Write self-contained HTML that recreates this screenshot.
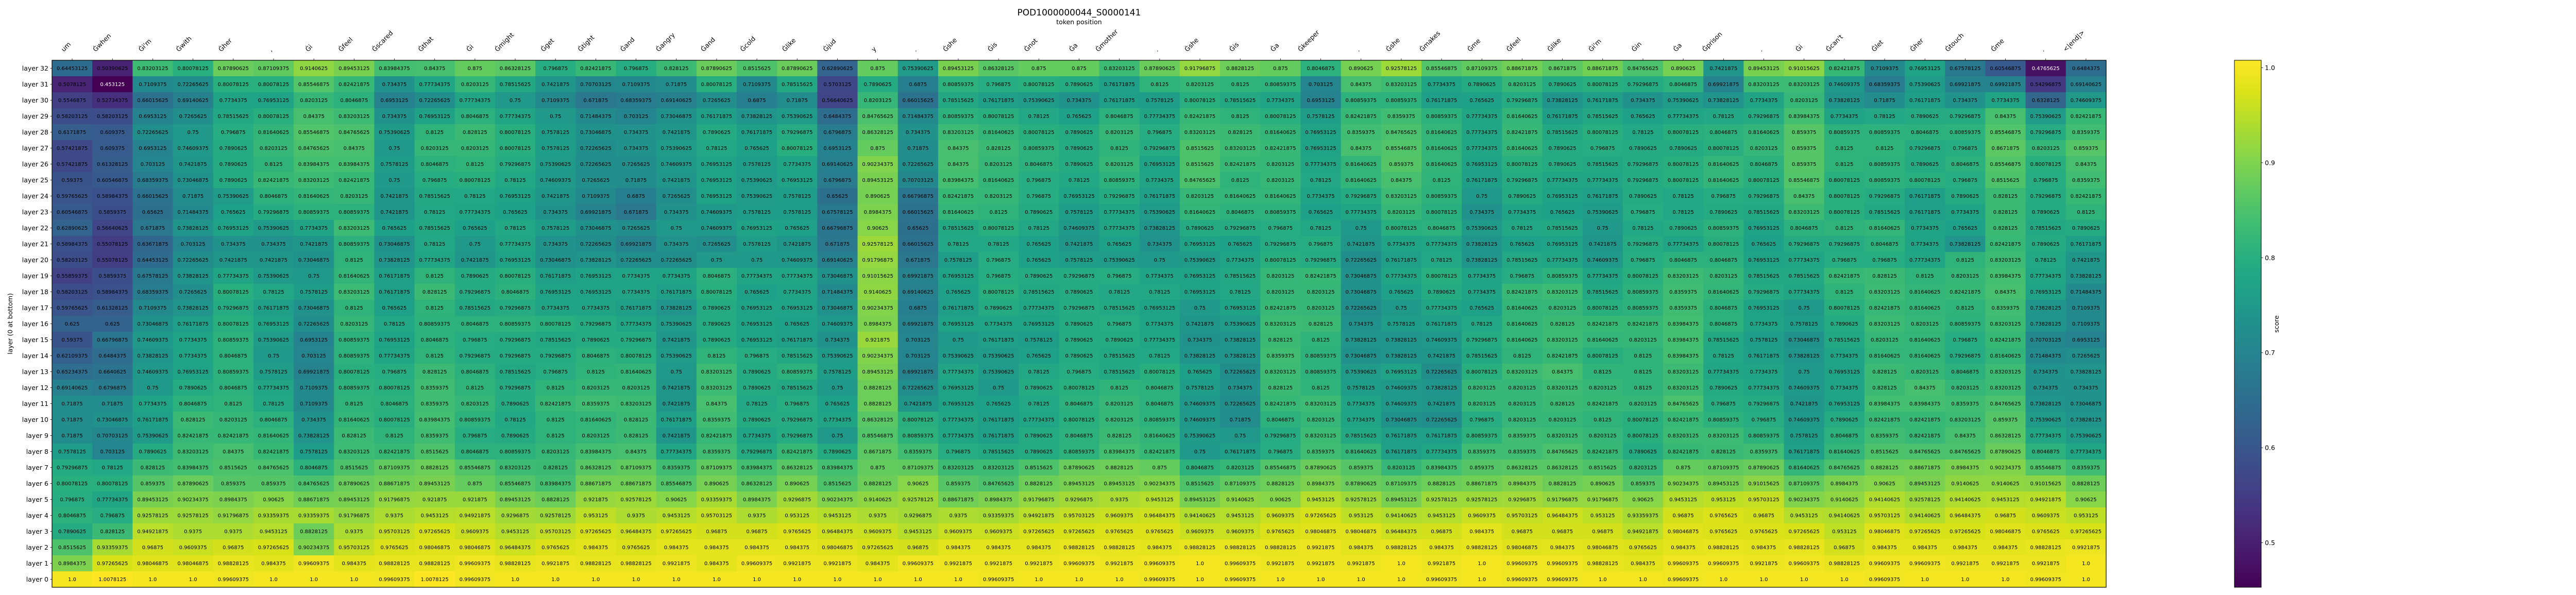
<!DOCTYPE html>
<html><head><meta charset="utf-8"><title>POD1000000044_S0000141</title>
<style>
html,body{margin:0;padding:0;background:#fff;}
svg{display:block;font-family:"DejaVu Sans","Liberation Sans",sans-serif;}
</style></head>
<body>
<svg id="chart" width="5100" height="1155" viewBox="0 0 5100 1155" xmlns="http://www.w3.org/2000/svg">
<defs><linearGradient id="cbgrad" x1="0" y1="1" x2="0" y2="0"></linearGradient></defs>
<text x="2094.5" y="30" font-size="17" text-anchor="middle">POD1000000044_S0000141</text>
<text x="2094.5" y="47" font-size="12.5" text-anchor="middle">token position</text>
<text x="0" y="0" font-size="12.5" text-anchor="middle" transform="translate(24,628.5) rotate(-90)">layer (0 at bottom)</text>
<g id="cells"></g>
<g id="xticks"></g>
<g id="yticks"></g>
<rect x="101" y="117" width="3987" height="1023" fill="none" stroke="#000" stroke-width="1.2"/>
<g id="colorbar"></g>
<text x="0" y="0" font-size="12.5" text-anchor="middle" transform="translate(4423,629) rotate(-90)">score</text>
</svg>
<script>
const tokens = ["um","Ġwhen","Ġi'm","Ġwith","Ġher",",","Ġi","Ġfeel","Ġscared","Ġthat","Ġi","Ġmight","Ġget","Ġtight","Ġand","Ġangry","Ġand","Ġcold","Ġlike","Ġjud","y",".","Ġshe","Ġis","Ġnot","Ġa","Ġmother",".","Ġshe","Ġis","Ġa","Ġkeeper",".","Ġshe","Ġmakes","Ġme","Ġfeel","Ġlike","Ġi'm","Ġin","Ġa","Ġprison",".","Ġi","Ġcan't","Ġlet","Ġher","Ġtouch","Ġme",".","<|end|>"];
const layerNums = [32,31,30,29,28,27,26,25,24,23,22,21,20,19,18,17,16,15,14,13,12,11,10,9,8,7,6,5,4,3,2,1,0];
const cbTicks = [0.5,0.6,0.7,0.8,0.9,1.0];
const vmin = 0.453125, vmax = 1.0078125;
const L32=[0.64453125,0.50390625,0.83203125,0.80078125,0.87890625,0.87109375,0.9140625,0.89453125,0.83984375,0.84375,0.875,0.86328125,0.796875,0.82421875,0.796875,0.828125,0.87890625,0.8515625,0.87890625,0.62890625,0.875,0.75390625,0.89453125,0.86328125,0.875,0.875,0.83203125,0.87890625,0.91796875,0.8828125,0.875,0.8046875,0.890625,0.92578125,0.85546875,0.87109375,0.88671875,0.8671875,0.88671875,0.84765625,0.890625,0.7421875,0.89453125,0.91015625,0.82421875,0.7109375,0.76953125,0.67578125,0.60546875,0.4765625,0.6484375];
const L31=[0.5078125,0.453125,0.7109375,0.72265625,0.80078125,0.80078125,0.85546875,0.82421875,0.734375,0.77734375,0.8203125,0.78515625,0.7421875,0.70703125,0.7109375,0.71875,0.80078125,0.7109375,0.78515625,0.5703125,0.7890625,0.6875,0.80859375,0.796875,0.80078125,0.7890625,0.76171875,0.8125,0.8203125,0.8125,0.80859375,0.703125,0.84375,0.83203125,0.7734375,0.7890625,0.8203125,0.7890625,0.80078125,0.79296875,0.8046875,0.69921875,0.83203125,0.83203125,0.74609375,0.68359375,0.75390625,0.69921875,0.69921875,0.54296875,0.69140625];
const L30=[0.5546875,0.52734375,0.66015625,0.69140625,0.7734375,0.76953125,0.8203125,0.8046875,0.6953125,0.72265625,0.77734375,0.75,0.7109375,0.671875,0.68359375,0.69140625,0.7265625,0.6875,0.71875,0.56640625,0.8203125,0.66015625,0.78515625,0.76171875,0.75390625,0.734375,0.76171875,0.7578125,0.80078125,0.78515625,0.7734375,0.6953125,0.80859375,0.80859375,0.76171875,0.765625,0.79296875,0.73828125,0.76171875,0.734375,0.75390625,0.73828125,0.7734375,0.8203125,0.73828125,0.71875,0.76171875,0.734375,0.7734375,0.6328125,0.74609375];
const L29=[0.58203125,0.58203125,0.6953125,0.7265625,0.78515625,0.80078125,0.84375,0.83203125,0.734375,0.76953125,0.8046875,0.77734375,0.75,0.71484375,0.703125,0.73046875,0.76171875,0.73828125,0.75390625,0.6484375,0.84765625,0.71484375,0.80859375,0.80078125,0.78125,0.765625,0.8046875,0.77734375,0.82421875,0.8125,0.80078125,0.7578125,0.82421875,0.8359375,0.80859375,0.77734375,0.81640625,0.76171875,0.78515625,0.765625,0.77734375,0.78125,0.79296875,0.83984375,0.7734375,0.78125,0.7890625,0.79296875,0.84375,0.75390625,0.82421875];
const L28=[0.6171875,0.609375,0.72265625,0.75,0.796875,0.81640625,0.85546875,0.84765625,0.75390625,0.8125,0.828125,0.80078125,0.7578125,0.73046875,0.734375,0.7421875,0.7890625,0.76171875,0.79296875,0.6796875,0.86328125,0.734375,0.83203125,0.81640625,0.80078125,0.7890625,0.8203125,0.796875,0.83203125,0.828125,0.81640625,0.76953125,0.8359375,0.84765625,0.81640625,0.77734375,0.82421875,0.78515625,0.80078125,0.78125,0.80078125,0.8046875,0.81640625,0.859375,0.80859375,0.80859375,0.8046875,0.80859375,0.85546875,0.79296875,0.8359375];
const L27=[0.57421875,0.609375,0.6953125,0.74609375,0.7890625,0.8203125,0.84765625,0.84375,0.75,0.8203125,0.8203125,0.80078125,0.7578125,0.72265625,0.734375,0.75390625,0.78125,0.765625,0.80078125,0.6953125,0.875,0.71875,0.84375,0.828125,0.80859375,0.7890625,0.8125,0.79296875,0.8515625,0.83203125,0.82421875,0.76953125,0.84375,0.85546875,0.81640625,0.77734375,0.81640625,0.7890625,0.796875,0.7890625,0.7890625,0.80078125,0.8203125,0.859375,0.8125,0.8125,0.79296875,0.796875,0.8671875,0.8203125,0.859375];
const L26=[0.57421875,0.61328125,0.703125,0.7421875,0.7890625,0.8125,0.83984375,0.83984375,0.7578125,0.8046875,0.8125,0.79296875,0.75390625,0.72265625,0.7265625,0.74609375,0.76953125,0.7578125,0.7734375,0.69140625,0.90234375,0.72265625,0.84375,0.8203125,0.8046875,0.7890625,0.8203125,0.76953125,0.8515625,0.82421875,0.8203125,0.77734375,0.81640625,0.859375,0.81640625,0.76953125,0.80078125,0.7890625,0.78515625,0.79296875,0.80078125,0.81640625,0.8046875,0.859375,0.8125,0.80859375,0.7890625,0.8046875,0.85546875,0.80078125,0.84375];
const L25=[0.59375,0.60546875,0.68359375,0.73046875,0.7890625,0.82421875,0.83203125,0.82421875,0.75,0.796875,0.80078125,0.78125,0.74609375,0.7265625,0.71875,0.7421875,0.76953125,0.75390625,0.76953125,0.6796875,0.89453125,0.70703125,0.83984375,0.81640625,0.796875,0.78125,0.80859375,0.7734375,0.84765625,0.8125,0.8203125,0.78125,0.81640625,0.84375,0.8125,0.76171875,0.79296875,0.77734375,0.77734375,0.79296875,0.80078125,0.81640625,0.80078125,0.85546875,0.80078125,0.80859375,0.80078125,0.796875,0.8515625,0.796875,0.8359375];
const L24=[0.59765625,0.58984375,0.66015625,0.71875,0.75390625,0.8046875,0.81640625,0.8203125,0.7421875,0.78515625,0.78125,0.76953125,0.7421875,0.7109375,0.6875,0.7265625,0.76953125,0.75390625,0.7578125,0.65625,0.890625,0.66796875,0.82421875,0.8203125,0.796875,0.76953125,0.79296875,0.76171875,0.8203125,0.81640625,0.81640625,0.7734375,0.79296875,0.83203125,0.80859375,0.75,0.7890625,0.76953125,0.76171875,0.7890625,0.78125,0.796875,0.79296875,0.84375,0.80078125,0.79296875,0.76171875,0.7890625,0.828125,0.79296875,0.82421875];
const L23=[0.60546875,0.5859375,0.65625,0.71484375,0.765625,0.79296875,0.80859375,0.80859375,0.7421875,0.78125,0.77734375,0.765625,0.734375,0.69921875,0.671875,0.734375,0.74609375,0.7578125,0.7578125,0.67578125,0.8984375,0.66015625,0.81640625,0.8125,0.7890625,0.7578125,0.77734375,0.75390625,0.81640625,0.8046875,0.80859375,0.765625,0.77734375,0.8203125,0.80078125,0.734375,0.7734375,0.765625,0.75390625,0.796875,0.78125,0.7890625,0.78515625,0.83203125,0.80078125,0.78515625,0.76171875,0.7734375,0.828125,0.7890625,0.8125];
const L22=[0.62890625,0.56640625,0.671875,0.73828125,0.76953125,0.75390625,0.7734375,0.83203125,0.765625,0.78515625,0.765625,0.78125,0.7578125,0.73046875,0.7265625,0.75,0.74609375,0.76953125,0.765625,0.66796875,0.90625,0.65625,0.78515625,0.80078125,0.78125,0.74609375,0.77734375,0.73828125,0.7890625,0.79296875,0.796875,0.78125,0.75,0.80078125,0.8046875,0.75390625,0.78125,0.78515625,0.75,0.78125,0.7890625,0.80859375,0.76953125,0.8046875,0.8125,0.81640625,0.7734375,0.765625,0.828125,0.78515625,0.7890625];
const L21=[0.58984375,0.55078125,0.63671875,0.703125,0.734375,0.734375,0.7421875,0.80859375,0.73046875,0.78125,0.75,0.77734375,0.734375,0.72265625,0.69921875,0.734375,0.7265625,0.7578125,0.7421875,0.671875,0.92578125,0.66015625,0.78125,0.78125,0.765625,0.7421875,0.765625,0.734375,0.76953125,0.765625,0.79296875,0.796875,0.7421875,0.7734375,0.77734375,0.73828125,0.765625,0.76953125,0.7421875,0.79296875,0.77734375,0.80078125,0.765625,0.79296875,0.79296875,0.8046875,0.7734375,0.73828125,0.82421875,0.7890625,0.76171875];
const L20=[0.58203125,0.55078125,0.64453125,0.72265625,0.7421875,0.7421875,0.73046875,0.8125,0.73828125,0.77734375,0.7421875,0.76953125,0.73046875,0.73828125,0.72265625,0.72265625,0.75,0.75,0.74609375,0.69140625,0.91796875,0.671875,0.7578125,0.796875,0.765625,0.7578125,0.75390625,0.75,0.75390625,0.7734375,0.80078125,0.79296875,0.72265625,0.76171875,0.78125,0.73828125,0.78515625,0.77734375,0.74609375,0.796875,0.8046875,0.8046875,0.76953125,0.77734375,0.796875,0.796875,0.77734375,0.8125,0.83203125,0.78125,0.7421875];
const L19=[0.55859375,0.5859375,0.67578125,0.73828125,0.77734375,0.75390625,0.75,0.81640625,0.76171875,0.8125,0.7890625,0.80078125,0.76171875,0.76953125,0.7734375,0.7734375,0.8046875,0.77734375,0.77734375,0.73046875,0.91015625,0.69921875,0.76953125,0.796875,0.7890625,0.79296875,0.796875,0.7734375,0.76953125,0.78515625,0.8203125,0.82421875,0.73046875,0.77734375,0.80078125,0.7734375,0.796875,0.80859375,0.77734375,0.80078125,0.83203125,0.8203125,0.78515625,0.78515625,0.82421875,0.828125,0.8125,0.8203125,0.83984375,0.77734375,0.73828125];
const L18=[0.58203125,0.58984375,0.68359375,0.7265625,0.80078125,0.78125,0.7578125,0.83203125,0.76171875,0.828125,0.79296875,0.8046875,0.76953125,0.76953125,0.7734375,0.76171875,0.80078125,0.765625,0.7734375,0.71484375,0.9140625,0.69140625,0.765625,0.80078125,0.78515625,0.7890625,0.78125,0.78125,0.76953125,0.78125,0.8203125,0.8203125,0.73046875,0.765625,0.7890625,0.7734375,0.82421875,0.83203125,0.78515625,0.80859375,0.8359375,0.81640625,0.79296875,0.77734375,0.8125,0.83203125,0.81640625,0.82421875,0.84375,0.76953125,0.71484375];
const L17=[0.59765625,0.61328125,0.7109375,0.73828125,0.79296875,0.76171875,0.73046875,0.8125,0.765625,0.8125,0.78515625,0.79296875,0.7734375,0.7734375,0.76171875,0.73828125,0.7890625,0.76953125,0.76953125,0.73046875,0.90234375,0.6875,0.76171875,0.7890625,0.77734375,0.79296875,0.78515625,0.76953125,0.75,0.76953125,0.82421875,0.8203125,0.72265625,0.75,0.77734375,0.765625,0.81640625,0.8203125,0.80078125,0.80859375,0.8359375,0.8046875,0.76953125,0.75,0.80078125,0.82421875,0.81640625,0.8125,0.8359375,0.73828125,0.7109375];
const L16=[0.625,0.625,0.73046875,0.76171875,0.80078125,0.76953125,0.72265625,0.8203125,0.78125,0.80859375,0.8046875,0.80859375,0.80078125,0.79296875,0.77734375,0.75390625,0.7890625,0.76953125,0.765625,0.74609375,0.8984375,0.69921875,0.76953125,0.7734375,0.76953125,0.7890625,0.796875,0.7734375,0.7421875,0.75390625,0.83203125,0.828125,0.734375,0.7578125,0.76171875,0.78125,0.81640625,0.828125,0.82421875,0.82421875,0.83984375,0.8046875,0.7734375,0.7578125,0.7890625,0.83203125,0.8203125,0.80859375,0.83203125,0.73828125,0.7109375];
const L15=[0.59375,0.66796875,0.74609375,0.7734375,0.80859375,0.75390625,0.6953125,0.80859375,0.76953125,0.8046875,0.796875,0.79296875,0.78515625,0.7890625,0.79296875,0.7421875,0.7890625,0.76953125,0.76171875,0.734375,0.921875,0.703125,0.75,0.76171875,0.7578125,0.7890625,0.7890625,0.77734375,0.734375,0.73828125,0.828125,0.8125,0.73828125,0.73828125,0.74609375,0.79296875,0.81640625,0.83203125,0.81640625,0.8203125,0.83984375,0.78515625,0.7578125,0.73046875,0.78515625,0.8203125,0.81640625,0.796875,0.82421875,0.70703125,0.6953125];
const L14=[0.62109375,0.6484375,0.73828125,0.7734375,0.8046875,0.75,0.703125,0.80859375,0.77734375,0.8125,0.79296875,0.79296875,0.79296875,0.8046875,0.80078125,0.75390625,0.8125,0.796875,0.78515625,0.75390625,0.90234375,0.703125,0.75390625,0.75390625,0.765625,0.7890625,0.78515625,0.78125,0.73828125,0.73828125,0.8359375,0.80859375,0.73046875,0.73828125,0.7421875,0.78515625,0.8125,0.82421875,0.80078125,0.8125,0.83984375,0.78125,0.76171875,0.73828125,0.7734375,0.81640625,0.81640625,0.79296875,0.81640625,0.71484375,0.7265625];
const L13=[0.65234375,0.6640625,0.74609375,0.76953125,0.80859375,0.7578125,0.69921875,0.80078125,0.796875,0.828125,0.8046875,0.78515625,0.796875,0.8125,0.81640625,0.75,0.83203125,0.7890625,0.80859375,0.7578125,0.89453125,0.69921875,0.77734375,0.75390625,0.78125,0.796875,0.78515625,0.80078125,0.765625,0.72265625,0.83203125,0.80859375,0.75390625,0.76953125,0.72265625,0.80078125,0.83203125,0.84375,0.8125,0.8125,0.83203125,0.77734375,0.7734375,0.75,0.76953125,0.828125,0.8203125,0.8046875,0.83203125,0.734375,0.73828125];
const L12=[0.69140625,0.6796875,0.75,0.7890625,0.8046875,0.77734375,0.7109375,0.80859375,0.80078125,0.8359375,0.8125,0.79296875,0.8125,0.8203125,0.8203125,0.7421875,0.83203125,0.7890625,0.78515625,0.75,0.8828125,0.72265625,0.76953125,0.75,0.7890625,0.80078125,0.8125,0.8046875,0.7578125,0.734375,0.828125,0.8125,0.7578125,0.74609375,0.73828125,0.8203125,0.8203125,0.83203125,0.8203125,0.8125,0.83203125,0.7890625,0.77734375,0.74609375,0.7734375,0.828125,0.84375,0.8203125,0.83203125,0.734375,0.734375];
const L11=[0.71875,0.71875,0.7734375,0.8046875,0.8125,0.78125,0.7109375,0.8125,0.8046875,0.8359375,0.8203125,0.7890625,0.82421875,0.8359375,0.83203125,0.7421875,0.84375,0.78125,0.796875,0.765625,0.8828125,0.7421875,0.76953125,0.765625,0.78125,0.8046875,0.8203125,0.8046875,0.74609375,0.72265625,0.82421875,0.83203125,0.7734375,0.74609375,0.7421875,0.8203125,0.8203125,0.828125,0.82421875,0.8203125,0.84765625,0.796875,0.79296875,0.7421875,0.76953125,0.83984375,0.83984375,0.8359375,0.84765625,0.73828125,0.73046875];
const L10=[0.71875,0.73046875,0.76171875,0.828125,0.8203125,0.8046875,0.734375,0.81640625,0.80078125,0.83984375,0.80859375,0.78125,0.8125,0.81640625,0.828125,0.76171875,0.8359375,0.7890625,0.79296875,0.7734375,0.86328125,0.80078125,0.77734375,0.76171875,0.77734375,0.80078125,0.8203125,0.80859375,0.74609375,0.71875,0.8046875,0.8203125,0.7734375,0.73046875,0.72265625,0.796875,0.8203125,0.8203125,0.8125,0.80078125,0.82421875,0.80859375,0.796875,0.74609375,0.7890625,0.82421875,0.82421875,0.83203125,0.859375,0.75390625,0.73828125];
const L9=[0.71875,0.70703125,0.75390625,0.82421875,0.82421875,0.81640625,0.73828125,0.828125,0.8125,0.8359375,0.796875,0.7890625,0.8125,0.8203125,0.828125,0.7421875,0.82421875,0.7734375,0.79296875,0.75,0.85546875,0.80859375,0.77734375,0.76171875,0.7890625,0.8046875,0.828125,0.81640625,0.75390625,0.75,0.79296875,0.83203125,0.78515625,0.76171875,0.76171875,0.80859375,0.8359375,0.83203125,0.8203125,0.80078125,0.83203125,0.83203125,0.80859375,0.7578125,0.8046875,0.8359375,0.82421875,0.84375,0.86328125,0.77734375,0.75390625];
const L8=[0.7578125,0.703125,0.7890625,0.83203125,0.84375,0.82421875,0.7578125,0.83203125,0.82421875,0.8515625,0.8046875,0.80859375,0.8203125,0.83984375,0.84375,0.77734375,0.8359375,0.79296875,0.82421875,0.7890625,0.8671875,0.8359375,0.796875,0.78515625,0.7890625,0.80859375,0.83984375,0.82421875,0.75,0.76171875,0.796875,0.8359375,0.81640625,0.76171875,0.77734375,0.8359375,0.8359375,0.84765625,0.82421875,0.7890625,0.82421875,0.828125,0.8359375,0.76171875,0.81640625,0.8515625,0.84765625,0.84765625,0.87890625,0.8046875,0.77734375];
const L7=[0.79296875,0.78125,0.828125,0.83984375,0.8515625,0.84765625,0.8046875,0.8515625,0.87109375,0.8828125,0.85546875,0.83203125,0.828125,0.86328125,0.87109375,0.8359375,0.87109375,0.83984375,0.86328125,0.83984375,0.875,0.87109375,0.83203125,0.83203125,0.8515625,0.87890625,0.8828125,0.875,0.8046875,0.8203125,0.85546875,0.87890625,0.859375,0.8203125,0.83984375,0.859375,0.86328125,0.86328125,0.8515625,0.8203125,0.875,0.87109375,0.87890625,0.81640625,0.84765625,0.8828125,0.88671875,0.8984375,0.90234375,0.85546875,0.8359375];
const L6=[0.80078125,0.80078125,0.859375,0.87890625,0.859375,0.859375,0.84765625,0.87890625,0.88671875,0.89453125,0.875,0.85546875,0.83984375,0.88671875,0.88671875,0.85546875,0.890625,0.86328125,0.890625,0.8515625,0.8828125,0.90625,0.859375,0.84765625,0.8828125,0.89453125,0.89453125,0.90234375,0.8515625,0.87109375,0.8828125,0.8984375,0.87890625,0.87109375,0.8828125,0.88671875,0.8984375,0.8828125,0.890625,0.859375,0.90234375,0.89453125,0.91015625,0.87109375,0.8984375,0.90625,0.89453125,0.9140625,0.9140625,0.91015625,0.8828125];
const L5=[0.796875,0.77734375,0.89453125,0.90234375,0.8984375,0.90625,0.88671875,0.89453125,0.91796875,0.921875,0.921875,0.89453125,0.8828125,0.921875,0.92578125,0.90625,0.93359375,0.8984375,0.9296875,0.90234375,0.9140625,0.92578125,0.88671875,0.8984375,0.91796875,0.9296875,0.9375,0.9453125,0.89453125,0.9140625,0.90625,0.9453125,0.92578125,0.89453125,0.92578125,0.92578125,0.9296875,0.91796875,0.91796875,0.90625,0.9453125,0.953125,0.95703125,0.90234375,0.9140625,0.94140625,0.92578125,0.94140625,0.9453125,0.94921875,0.90625];
const L4=[0.8046875,0.796875,0.92578125,0.92578125,0.91796875,0.93359375,0.93359375,0.91796875,0.9375,0.9453125,0.94921875,0.9296875,0.92578125,0.953125,0.9375,0.9453125,0.95703125,0.9375,0.953125,0.9453125,0.9375,0.9296875,0.9375,0.93359375,0.94921875,0.95703125,0.9609375,0.96484375,0.94140625,0.9453125,0.9609375,0.97265625,0.953125,0.94140625,0.9453125,0.9609375,0.95703125,0.96484375,0.953125,0.93359375,0.96875,0.9765625,0.96875,0.9453125,0.94140625,0.95703125,0.94140625,0.96484375,0.96875,0.9609375,0.953125];
const L3=[0.7890625,0.828125,0.94921875,0.9375,0.9375,0.9453125,0.8828125,0.9375,0.95703125,0.97265625,0.9609375,0.9453125,0.95703125,0.97265625,0.96484375,0.97265625,0.96875,0.96875,0.9765625,0.96484375,0.9609375,0.9453125,0.9609375,0.9609375,0.97265625,0.97265625,0.9765625,0.9765625,0.9609375,0.9609375,0.9765625,0.98046875,0.98046875,0.96484375,0.96875,0.984375,0.96875,0.96875,0.96875,0.94921875,0.98046875,0.9765625,0.9765625,0.97265625,0.953125,0.98046875,0.97265625,0.97265625,0.98046875,0.9765625,0.97265625];
const L2=[0.8515625,0.93359375,0.96875,0.9609375,0.96875,0.97265625,0.90234375,0.95703125,0.9765625,0.98046875,0.98046875,0.96484375,0.9765625,0.984375,0.9765625,0.984375,0.984375,0.984375,0.984375,0.98046875,0.97265625,0.96875,0.984375,0.984375,0.984375,0.98828125,0.98828125,0.984375,0.98828125,0.98828125,0.98828125,0.9921875,0.984375,0.98828125,0.984375,0.98828125,0.98046875,0.984375,0.98046875,0.9765625,0.984375,0.98828125,0.984375,0.98828125,0.96875,0.984375,0.984375,0.984375,0.984375,0.98828125,0.9921875];
const L1=[0.8984375,0.97265625,0.98046875,0.98046875,0.98828125,0.984375,0.99609375,0.984375,0.98828125,0.98828125,0.99609375,0.98828125,0.9921875,0.98828125,0.98828125,0.9921875,0.984375,0.99609375,0.9921875,0.9921875,0.984375,0.99609375,0.9921875,0.9921875,0.9921875,0.99609375,0.9921875,0.99609375,1.0,0.99609375,0.9921875,0.9921875,0.9921875,1.0,0.9921875,1.0,0.99609375,0.99609375,0.98828125,0.984375,0.99609375,0.99609375,0.9921875,0.99609375,0.98828125,0.99609375,0.99609375,0.9921875,0.9921875,0.9921875,1.0];
const L0=[1.0,1.0078125,1.0,1.0,0.99609375,1.0,1.0,1.0,0.99609375,1.0078125,0.99609375,1.0,1.0,1.0,1.0,1.0,1.0,1.0,1.0,1.0,1.0,1.0,1.0,0.99609375,1.0,1.0,1.0,0.99609375,1.0,0.99609375,1.0,1.0,1.0,1.0,0.99609375,1.0,0.99609375,0.99609375,1.0,1.0,0.99609375,1.0,1.0,1.0,1.0,0.99609375,1.0,1.0,1.0,0.99609375,1.0];
const scoreRows = [L32,L31,L30,L29,L28,L27,L26,L25,L24,L23,L22,L21,L20,L19,L18,L17,L16,L15,L14,L13,L12,L11,L10,L9,L8,L7,L6,L5,L4,L3,L2,L1,L0];

const NS = "http://www.w3.org/2000/svg";
const PX0 = 101, PX1 = 4088, PY0 = 117, PY1 = 1140;
const cw = (PX1 - PX0) / tokens.length;
const rh = (PY1 - PY0) / scoreRows.length;
function xPos(i){ return PX0 + i * cw; }
function yPos(r){ return PY0 + r * rh; }

const VIR = ["#440154","#48186a","#472d7b","#424086","#3b528b","#33638d","#2c728e","#26828e","#21918c","#1fa088","#28ae80","#3fbc73","#5ec962","#84d44b","#addc30","#d8e219","#fde725"];
function hex2rgb(h){ return [parseInt(h.slice(1,3),16),parseInt(h.slice(3,5),16),parseInt(h.slice(5,7),16)]; }
const VRGB = VIR.map(hex2rgb);
function viridis(t){
  t = Math.max(0, Math.min(1, t));
  const f = t * (VRGB.length - 1);
  const i = Math.min(VRGB.length - 2, Math.floor(f));
  const u = f - i;
  const a = VRGB[i], b = VRGB[i+1];
  return "rgb(" + [0,1,2].map(k => Math.round(a[k] + (b[k]-a[k])*u)).join(",") + ")";
}
function colorOf(v){ return viridis((v - vmin) / (vmax - vmin)); }
function fmt(v){ return Number.isInteger(v) ? v.toFixed(1) : String(v); }

const cells = document.getElementById("cells");
scoreRows.forEach((row, r) => {
  row.forEach((v, c) => {
    const rect = document.createElementNS(NS, "rect");
    
    
    rect.setAttribute("x", xPos(c));
    rect.setAttribute("y", yPos(r));
    rect.setAttribute("width", cw + 0.6);
    rect.setAttribute("height", rh + 0.6);
    rect.setAttribute("fill", colorOf(v));
    cells.appendChild(rect);
    const t = document.createElementNS(NS, "text");
    
    
    t.setAttribute("x", xPos(c) + cw/2);
    t.setAttribute("y", yPos(r) + rh/2 + 3.6);
    t.setAttribute("font-size", "10");
    t.setAttribute("text-anchor", "middle");
    t.setAttribute("fill", v < 0.49 ? "#fff" : "#000");
    t.textContent = fmt(v);
    cells.appendChild(t);
  });
});

const yt = document.getElementById("yticks");
layerNums.forEach((n, r) => {
  const yc = yPos(r) + rh/2;
  const ln = document.createElementNS(NS, "line");
  
  
  ln.setAttribute("x1", PX0 - 3.5); ln.setAttribute("x2", PX0);
  ln.setAttribute("y1", yc); ln.setAttribute("y2", yc);
  ln.setAttribute("stroke", "#000"); ln.setAttribute("stroke-width", "0.8");
  yt.appendChild(ln);
  const t = document.createElementNS(NS, "text");
  
  
  t.setAttribute("x", PX0 - 7);
  t.setAttribute("y", yc + 4.5);
  t.setAttribute("font-size", "12.5");
  t.setAttribute("text-anchor", "end");
  t.textContent = "layer " + n;
  yt.appendChild(t);
});

const xt = document.getElementById("xticks");
tokens.forEach((tok, c) => {
  const xc = xPos(c) + cw/2;
  const ln = document.createElementNS(NS, "line");
  
  
  ln.setAttribute("x1", xc); ln.setAttribute("x2", xc);
  ln.setAttribute("y1", PY0 - 3.5); ln.setAttribute("y2", PY0);
  ln.setAttribute("stroke", "#000"); ln.setAttribute("stroke-width", "0.8");
  xt.appendChild(ln);
  const t = document.createElementNS(NS, "text");
  
  
  t.setAttribute("font-size", "12.5");
  t.textContent = tok;
  xt.appendChild(t);
  const w = t.getComputedTextLength();
  const px = xc - 0.707 * w - 2;
  const py = 101;
  t.setAttribute("x", px); t.setAttribute("y", py);
  t.setAttribute("transform", "rotate(-45 " + px + " " + py + ")");
});

// colorbar
const grad = document.getElementById("cbgrad");
for (let i = 0; i < VIR.length; i++) {
  const s = document.createElementNS(NS, "stop");
  s.setAttribute("offset", (i/(VIR.length-1)));
  s.setAttribute("stop-color", VIR[i]);
  grad.appendChild(s);
}
const cb = document.getElementById("colorbar");
const CBX = 4337, CBW = 52;
function cbY(v){ return PY1 - (v - vmin) / (vmax - vmin) * (PY1 - PY0); }
const cbr = document.createElementNS(NS, "rect");


cbr.setAttribute("x", CBX); cbr.setAttribute("y", PY0);
cbr.setAttribute("width", CBW); cbr.setAttribute("height", PY1 - PY0);
cbr.setAttribute("fill", "url(#cbgrad)");
cbr.setAttribute("stroke", "#000"); cbr.setAttribute("stroke-width", "1");
cb.appendChild(cbr);
cbTicks.forEach(v => {
  const y = cbY(v);
  const ln = document.createElementNS(NS, "line");
  
  
  ln.setAttribute("x1", CBX + CBW); ln.setAttribute("x2", CBX + CBW + 3.5);
  ln.setAttribute("y1", y); ln.setAttribute("y2", y);
  ln.setAttribute("stroke", "#000"); ln.setAttribute("stroke-width", "0.8");
  cb.appendChild(ln);
  const t = document.createElementNS(NS, "text");
  
  
  t.setAttribute("x", CBX + CBW + 7);
  t.setAttribute("y", y + 4.5);
  t.setAttribute("font-size", "12.5");
  t.textContent = v.toFixed(1);
  cb.appendChild(t);
});
</script>
</body></html>
